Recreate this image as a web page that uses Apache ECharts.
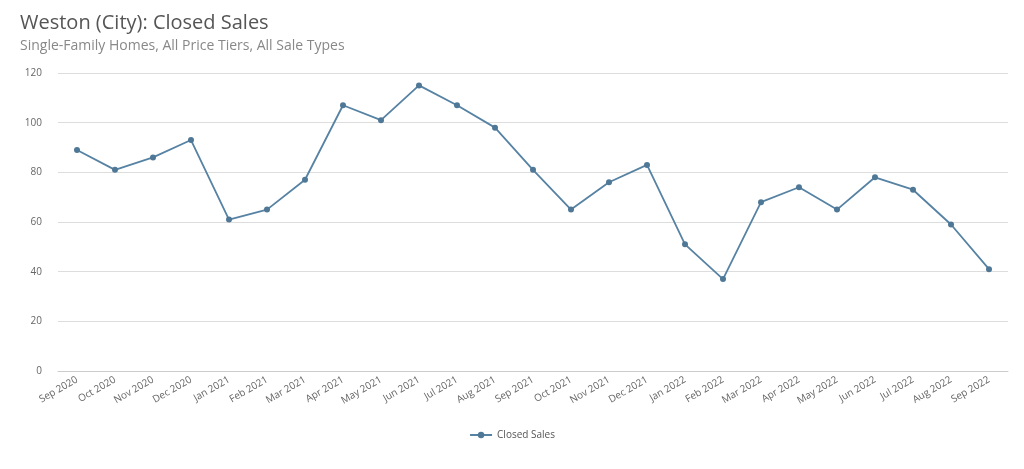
<!DOCTYPE html>
<html><head><meta charset="utf-8">
<script src="https://cdn.jsdelivr.net/npm/echarts@6/dist/echarts.min.js"></script>
<style>html,body{margin:0;padding:0;background:#fff}#c{width:1024px;height:469px}</style>
</head><body><div id="c"></div>
<script>
const categories=["Sep 2020","Oct 2020","Nov 2020","Dec 2020","Jan 2021","Feb 2021","Mar 2021","Apr 2021","May 2021","Jun 2021","Jul 2021","Aug 2021","Sep 2021","Oct 2021","Nov 2021","Dec 2021","Jan 2022","Feb 2022","Mar 2022","Apr 2022","May 2022","Jun 2022","Jul 2022","Aug 2022","Sep 2022"];
const closedSales=[89,81,86,93,61,65,77,107,101,115,107,98,81,65,76,83,51,37,68,74,65,78,73,59,41];
const yTicks={min:0,max:120,interval:20};
const chart=echarts.init(document.getElementById('c'));
chart.setOption({
  textStyle:{fontFamily:'Open Sans'},
  title:{text:'Weston (City): Closed Sales',subtext:'Single-Family Homes, All Price Tiers, All Sale Types',left:15,top:8,itemGap:6,
    textStyle:{fontSize:20,fontWeight:'normal',color:'#555'},subtextStyle:{fontSize:14,color:'#888'}},
  grid:{left:58,right:16,top:73,bottom:98},
  legend:{bottom:24,left:'center',itemWidth:22,itemHeight:8,textStyle:{fontSize:10,color:'#555'},data:['Closed Sales']},
  xAxis:{type:'category',data:categories,boundaryGap:true,
    axisLine:{lineStyle:{color:'#ccc'}},axisTick:{show:false},
    axisLabel:{rotate:30,fontSize:10,color:'#666',interval:0,margin:8}},
  yAxis:{type:'value',min:yTicks.min,max:yTicks.max,interval:yTicks.interval,
    axisLine:{show:false},axisTick:{show:false},axisLabel:{fontSize:10,color:'#666',margin:16},
    splitLine:{lineStyle:{color:'#ddd'}}},
  series:[{name:'Closed Sales',type:'line',data:closedSales,symbol:'circle',symbolSize:6,
    lineStyle:{color:'#5682a3',width:1.8},itemStyle:{color:'#4f7796'}}]
});
</script></body></html>
